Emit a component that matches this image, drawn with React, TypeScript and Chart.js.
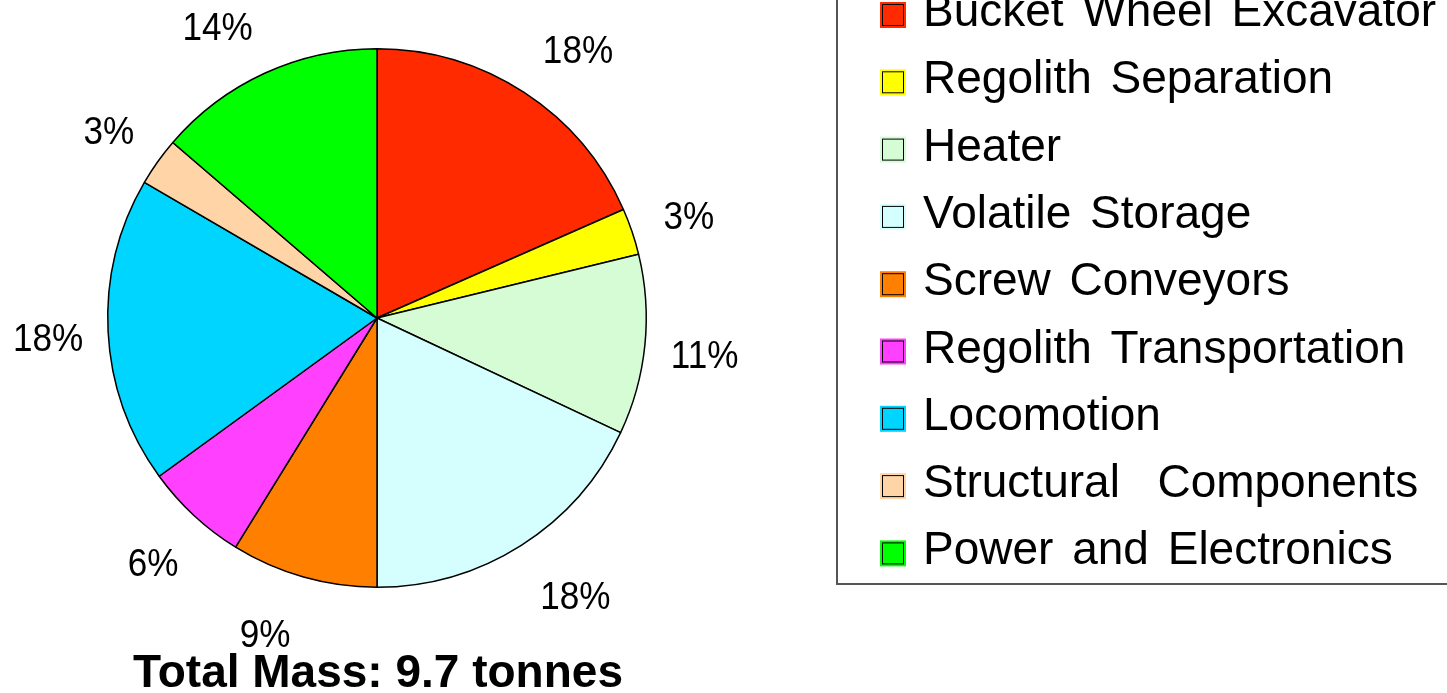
import React, { useEffect, useRef } from "react";
import { Chart, registerables } from "chart.js";

Chart.register(...registerables);

const categories = [
  "Bucket Wheel Excavator",
  "Regolith Separation",
  "Heater",
  "Volatile Storage",
  "Screw Conveyors",
  "Regolith Transportation",
  "Locomotion",
  "Structural  Components",
  "Power and Electronics",
];
const massShare = [18.4, 2.8, 10.8, 18.0, 8.8, 6.2, 18.4, 2.9, 13.7];
const percentLabels = ["18%", "3%", "11%", "18%", "9%", "6%", "18%", "3%", "14%"];
const sliceColors = [
  "#FF2A00",
  "#FFFF00",
  "#D5FCD5",
  "#D5FFFF",
  "#FF8000",
  "#FF40FF",
  "#00D5FF",
  "#FFD5A8",
  "#00FF00",
];
const titleText = "Total Mass: 9.7 tonnes";

const FONT = '"Liberation Sans", Arial, sans-serif';

const overlayPlugin = {
  id: "overlay",
  afterDatasetsDraw(chart: any) {
    const ctx = chart.ctx;
    const meta = chart.getDatasetMeta(0);
    ctx.save();
    ctx.fillStyle = "#000";
    ctx.font = `39px ${FONT}`;
    ctx.textAlign = "center";
    ctx.textBaseline = "middle";
    meta.data.forEach((arc: any, i: number) => {
      const p = arc.getProps(["x", "y", "startAngle", "endAngle", "outerRadius"], true);
      const mid = (p.startAngle + p.endAngle) / 2;
      const r = p.outerRadius + 60;
      let lx = p.x + Math.cos(mid) * r;
      let ly = p.y + Math.sin(mid) * r;
      // labels near the top / bottom are pushed sideways, away from the vertical axis
      const v = Math.abs(Math.sin(mid));
      const t = Math.min(1, Math.max(0, (v - 0.78) / 0.06));
      lx += Math.sign(Math.cos(mid)) * 22 * t;
      ly -= Math.sign(Math.sin(mid)) * 4 * t;
      ctx.save();
      ctx.translate(lx, ly + 6);
      ctx.scale(0.9, 1);
      ctx.fillText(percentLabels[i], 0, 0);
      ctx.restore();
    });
    ctx.restore();
  },
  afterDraw(chart: any) {
    const ctx = chart.ctx;
    const area = chart.chartArea;
    ctx.save();
    // Title
    ctx.fillStyle = "#000";
    ctx.font = `bold 46px ${FONT}`;
    ctx.textAlign = "center";
    ctx.textBaseline = "alphabetic";
    ctx.fillText(titleText, (area.left + area.right) / 2 + 1, 687);

    // Legend frame
    const frameX = 837;
    const frameBottom = 584;
    ctx.strokeStyle = "#555";
    ctx.lineWidth = 2;
    ctx.beginPath();
    ctx.moveTo(frameX, -5);
    ctx.lineTo(frameX, frameBottom);
    ctx.lineTo(chart.width + 5, frameBottom);
    ctx.stroke();

    // Legend items
    const labels = chart.data.labels;
    const colors = chart.data.datasets[0].backgroundColor;
    const firstBaseline = 26;
    const step = 67.3;
    ctx.font = `46px ${FONT}`;
    ctx.textAlign = "left";
    try {
      (ctx as any).wordSpacing = "6px";
    } catch (e) {}
    labels.forEach((lab: string, i: number) => {
      const b = firstBaseline + i * step;
      ctx.fillStyle = colors[i];
      ctx.fillRect(880, b - 24, 26, 26);
      ctx.strokeStyle = "#000";
      ctx.lineWidth = 1;
      ctx.strokeRect(882.5, b - 21.5, 21, 21);
      ctx.fillStyle = "#000";
      ctx.fillText(lab, 923, b);
    });
    ctx.restore();
  },
};

export default function App() {
  const ref = useRef<HTMLCanvasElement | null>(null);
  useEffect(() => {
    if (!ref.current) return;
    const chart = new Chart(ref.current, {
      type: "pie",
      data: {
        labels: categories,
        datasets: [
          {
            data: massShare,
            backgroundColor: sliceColors,
            borderColor: "#000",
            borderWidth: 1.5,
          },
        ],
      },
      options: {
        responsive: false,
        animation: false,
        events: [],
        layout: { padding: { left: 107, right: 800, top: 48, bottom: 105 } },
        plugins: {
          legend: { display: false },
          tooltip: { enabled: false },
          title: { display: false },
        },
      },
      plugins: [overlayPlugin],
    });
    return () => chart.destroy();
  }, []);
  return (
    <div style={{ position: "fixed", left: 0, top: 0, width: 1447, height: 693, background: "#fff" }}>
      <canvas ref={ref} width={1447} height={693} style={{ width: 1447, height: 693 }} />
    </div>
  );
}
